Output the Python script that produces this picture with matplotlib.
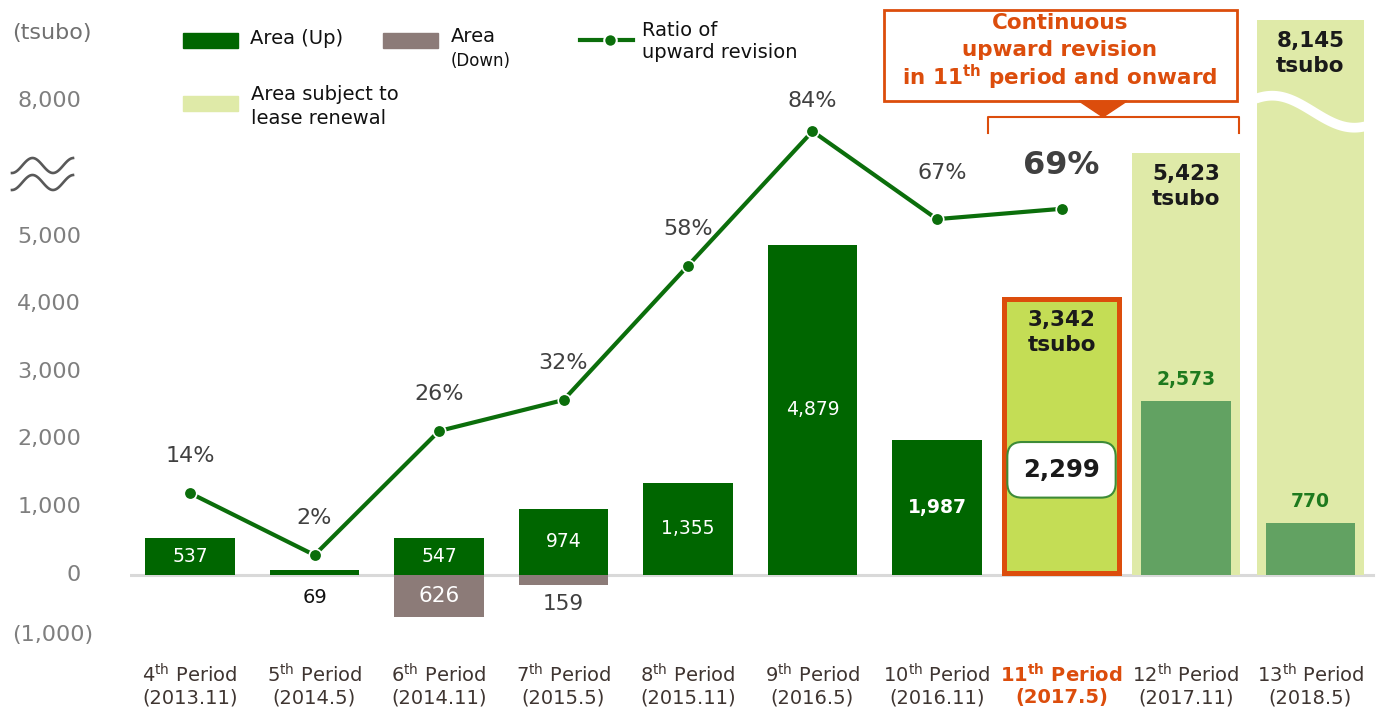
import matplotlib.pyplot as plt
import numpy as np
from matplotlib.patches import Rectangle, Polygon
from matplotlib.lines import Line2D

# data
period_num = ['4', '5', '6', '7', '8', '9', '10', '11', '12', '13']
period_date = ['2013.11', '2014.5', '2014.11', '2015.5', '2015.11',
               '2016.5', '2016.11', '2017.5', '2017.11', '2018.5']
area_up = [537, 69, 547, 974, 1355, 4879, 1987]        # 4th - 10th
area_down = [0, 0, 626, 159, 0, 0, 0]                  # 4th - 10th
ratio_up = [14, 2, 26, 32, 58, 84, 67, 69]             # 4th - 11th (%)
renewal_area = [3342, 5423, 8145]                      # 11th - 13th
renewal_drawn = [4075, 6240, 8200]                     # bar heights as drawn (not to scale)
contracted_11 = 2299
fixed_up = [2573, 770]                                 # 12th, 13th
ytick_pos = [-900, 0, 1000, 2000, 3000, 4000, 5000, 7000]
ytick_lbl = ['(1,000)', '0', '1,000', '2,000', '3,000', '4,000', '5,000', '8,000']
callout_lines = ['Continuous', 'upward revision', r'in 11$^{\mathbf{th}}$ period and onward']

DARK = '#006600'
LINE = '#0b6e0b'
BROWN = '#8c7b78'
LIGHT = '#dfeaa8'
LIME = '#c4dd55'
MID = '#62a262'
ORANGE = '#dc4d0c'
GREY = '#7f7f7f'
TXT = '#3f3531'

W, H = 1377, 711
fig = plt.figure(figsize=(W / 100, H / 100), dpi=100)


def fx(x):
    return x / W


def fy(y):
    return 1 - y / H


PX = 0.72  # points per pixel

ax = fig.add_axes([fx(130), fy(676), (W - 130) / W, 676 / H])
ax.set_xlim((130 - 190) / 124.5, (W - 190) / 124.5)
ax.set_ylim(-1500, 8500)
ax.axis('off')

x = np.arange(10)

# bars
ax.bar(x[:7], area_up, width=0.72, color=DARK, zorder=2)
ax.bar(x[:7], [-d for d in area_down], width=0.72, color=BROWN, zorder=2)
ax.bar(x[8:], renewal_drawn[1:], width=0.86, color=LIGHT, zorder=2)
ax.bar(x[7], renewal_drawn[0] - 20, bottom=20, width=0.92, color=LIME, edgecolor=ORANGE,
       linewidth=3.6, zorder=2)
ax.bar(x[8:], fixed_up, width=0.72, color=MID, zorder=3)
ax.axhline(0, xmin=0, xmax=(1373 - 130) / (W - 130), color='#d9d9d9', lw=2.2, zorder=1)

# broken top of the 13th bar
t = np.linspace(0, 1, 60)
wave_px = 112 - 16 * np.cos(np.pi * (t - 0.15) / 0.75)
ax.plot(x[9] - 0.44 + 0.88 * t, (575 - wave_px) * 14.79, color='white', lw=7,
        solid_capstyle='butt', zorder=4)

# value labels
for i, v in enumerate(area_up):
    if v < 200:
        ax.annotate(f'{v:,}', (i, 0), xytext=(0, -23 * PX), textcoords='offset points',
                    ha='center', va='center', fontsize=14, color='#111111')
    else:
        ax.text(i, v / 2, f'{v:,}', ha='center', va='center', fontsize=13.5,
                color='white', fontweight='bold' if i == 6 else 'normal', zorder=5)
for i, v in enumerate(area_down):
    if v == 0:
        continue
    if v > 300:
        ax.text(i, -v / 2, f'{v:,}', ha='center', va='center', fontsize=15.5,
                color='white', zorder=5)
    else:
        ax.annotate(f'{v:,}', (i, -v), xytext=(0, -19 * PX), textcoords='offset points',
                    ha='center', va='center', fontsize=15.5, color='#404040')

for i, (v, h) in enumerate(zip(renewal_area, renewal_drawn)):
    ax.annotate(f'{v:,}\ntsubo', (x[7 + i], h), xytext=(0, -11 * PX),
                textcoords='offset points', ha='center', va='top', fontsize=15.5,
                fontweight='bold', color='#1a1a1a', linespacing=1.3, zorder=5)
for i, v in enumerate(fixed_up):
    ax.annotate(f'{v:,}', (x[8 + i], v), xytext=(0, 12 * PX), textcoords='offset points',
                ha='center', va='bottom', fontsize=13.5, fontweight='bold',
                color='#1e7a1e', zorder=5)
ax.text(x[7], 1550, f'{contracted_11:,}', ha='center', va='center', fontsize=17.5,
        fontweight='bold', color='#1a1a1a', zorder=6,
        bbox=dict(boxstyle='round,pad=0.65,rounding_size=0.6', fc='white',
                  ec='#3d8b37', lw=1.5))

# ratio line
ax2 = ax.twinx()
ax2.set_ylim(-21.4, 109.4)
ax2.axis('off')
ax2.plot(x[:8], ratio_up, color=LINE, lw=3, marker='o', ms=9, mec='white', mew=1.2,
         zorder=5)
for i, r in enumerate(ratio_up):
    if i == 7:
        ax2.annotate(f'{r}%', (i, r), xytext=(0, 43 * PX), textcoords='offset points',
                     ha='center', va='center', fontsize=23, fontweight='bold',
                     color='#404040')
    else:
        off = {5: 30, 6: 46}.get(i, 37)
        dx = 5 if i == 6 else 0
        ax2.annotate(f'{r}%', (i, r), xytext=(dx * PX, off * PX), textcoords='offset points',
                     ha='center', va='center', fontsize=16, color='#404040')

# y axis labels
for p, lbl in zip(ytick_pos, ytick_lbl):
    right = 93 if lbl.startswith('(') else 81
    ax.text((right - 130) / (W - 130), p, lbl, transform=ax.get_yaxis_transform(),
            ha='right', va='center', fontsize=16, color=GREY)
fig.text(fx(12), fy(33), '(tsubo)', ha='left', va='center', fontsize=16, color='#707070')

# axis break mark
xs = np.linspace(12, 73, 80)
for base in (165.5, 182.5):
    ys = base + 7.5 * np.cos(2 * np.pi * (xs - 12) / 41)
    fig.add_artist(Line2D(fx(xs), fy(ys), transform=fig.transFigure, color='#595959',
                          lw=1.9))

# x labels
for i, (n, d) in enumerate(zip(period_num, period_date)):
    hl = i == 7
    col = ORANGE if hl else TXT
    w = 'bold' if hl else 'normal'
    sup = r'$^{\mathbf{th}}$' if hl else r'$^{\mathrm{th}}$'
    ax.text(i, (676 - 675) / 676, f'{n}{sup} Period', transform=ax.get_xaxis_transform(),
            ha='center', va='center', fontsize=14, color=col, fontweight=w)
    ax.text(i, (676 - 698) / 676, f'({d})', transform=ax.get_xaxis_transform(),
            ha='center', va='center', fontsize=14, color=col, fontweight=w)

# legend (drawn by hand to follow the original layout)
def legend_patch(x0, y0, color):
    fig.add_artist(Rectangle((fx(x0), fy(y0 + 15)), 55 / W, 15 / H, color=color,
                             transform=fig.transFigure))


legend_patch(183, 33, DARK)
fig.text(fx(250), fy(39), 'Area (Up)', ha='left', va='center', fontsize=14, color='#111111')
legend_patch(383, 33, BROWN)
fig.text(fx(451), fy(37), 'Area', ha='left', va='center', fontsize=14, color='#111111')
fig.text(fx(451), fy(61), '(Down)', ha='left', va='center', fontsize=12, color='#111111')
legend_patch(183, 96, LIGHT)
fig.text(fx(251), fy(94), 'Area subject to', ha='left', va='center', fontsize=14,
         color='#111111')
fig.text(fx(251), fy(118), 'lease renewal', ha='left', va='center', fontsize=14,
         color='#111111')
fig.add_artist(Line2D([fx(580), fx(633)], [fy(40), fy(40)], transform=fig.transFigure,
                      color=LINE, lw=3))
fig.add_artist(Line2D([fx(610)], [fy(40)], transform=fig.transFigure, color=LINE,
                      marker='o', ms=9, mec='white', mew=1.5))
fig.text(fx(642), fy(30), 'Ratio of', ha='left', va='center', fontsize=14, color='#111111')
fig.text(fx(642), fy(53), 'upward revision', ha='left', va='center', fontsize=14,
         color='#111111')

# callout
fig.add_artist(Rectangle((fx(884), fy(101)), (1237 - 884) / W, 91 / H, fc='white',
                         ec=ORANGE, lw=2, transform=fig.transFigure))
for yy, line in zip((23, 50, 77), callout_lines):
    fig.text(fx(1060), fy(yy), line, ha='center', va='center', fontsize=15.5,
             fontweight='bold', color=ORANGE)
fig.add_artist(Polygon([(fx(1079), fy(101)), (fx(1127), fy(101)), (fx(1103), fy(117))],
                       closed=True, color=ORANGE, transform=fig.transFigure))
fig.add_artist(Line2D([fx(988), fx(988), fx(1239), fx(1239)],
                      [fy(133), fy(117), fy(117), fy(133)], transform=fig.transFigure,
                      color=ORANGE, lw=1.5))

fig.savefig('out.png', dpi=100)
